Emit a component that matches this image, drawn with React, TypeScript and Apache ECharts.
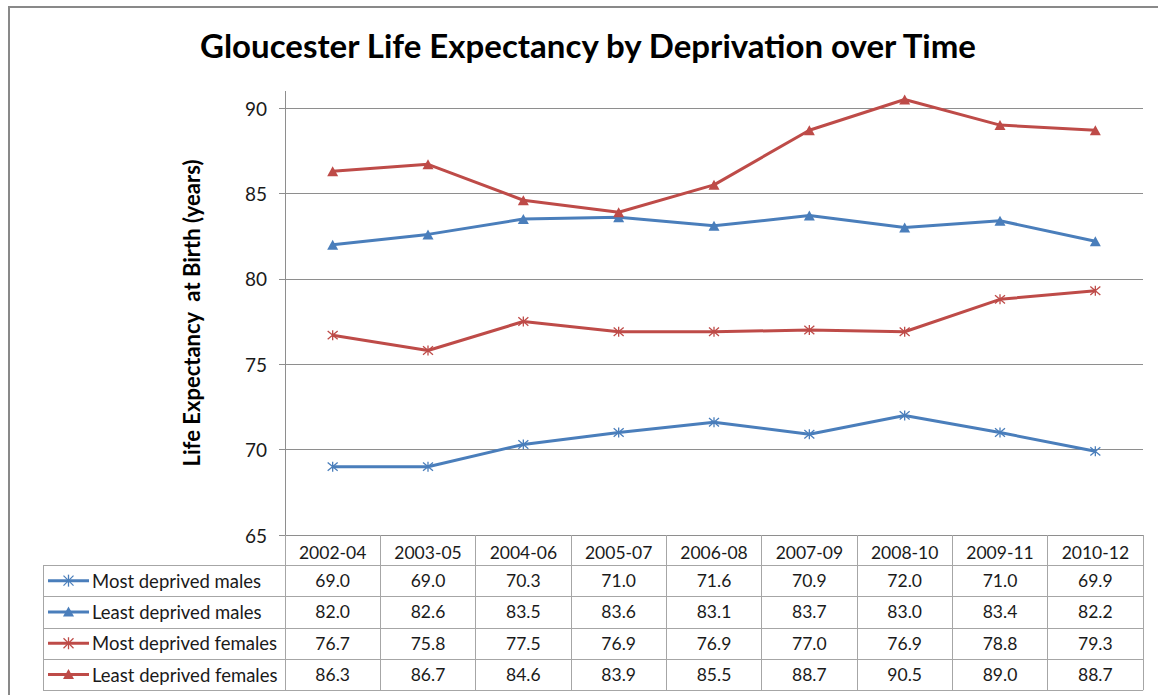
import React, { useEffect, useRef } from "react";
import * as echarts from "echarts";

const categories = ["2002-04", "2003-05", "2004-06", "2005-07", "2006-08", "2007-09", "2008-10", "2009-11", "2010-12"];
const seriesNames = ["Most deprived males", "Least deprived males", "Most deprived females", "Least deprived females"];
const mostDeprivedMales = [69.0, 69.0, 70.3, 71.0, 71.6, 70.9, 72.0, 71.0, 69.9];
const leastDeprivedMales = [82.0, 82.6, 83.5, 83.6, 83.1, 83.7, 83.0, 83.4, 82.2];
const mostDeprivedFemales = [76.7, 75.8, 77.5, 76.9, 76.9, 77.0, 76.9, 78.8, 79.3];
const leastDeprivedFemales = [86.3, 86.7, 84.6, 83.9, 85.5, 88.7, 90.5, 89.0, 88.7];
const yTicks = { min: 65, max: 90, interval: 5 };

const BLUE = "#4A7EBB";
const RED = "#BE4B48";
const FONT = "Lato, 'Noto Sans', sans-serif";
const ASTERISK = "path://M0,0L10,10M10,0L0,10M5,-1L5,11";

export default function App() {
  const ref = useRef<HTMLDivElement>(null);
  useEffect(() => {
    document.body.style.margin = "0";
    const chart = echarts.init(ref.current!, null, { renderer: "svg" });
    const W = 1158;
    const gridLeft = 285;
    const gridRight = 15;
    const gridTop = 108;
    const gridBottom = 160;
    const plotRight = W - gridRight;
    const axisY = 695 - gridBottom;
    const colW = (plotRight - gridLeft) / categories.length;
    const headerH = 30;
    const rowH = 31.3;
    const tableLeft = 43;
    const allData = [mostDeprivedMales, leastDeprivedMales, mostDeprivedFemales, leastDeprivedFemales];
    const colors = [BLUE, BLUE, RED, RED];
    const symbols = [ASTERISK, "triangle", ASTERISK, "triangle"];

    const graphics: any[] = [
      {
        type: "rect",
        shape: { x: 9, y: 7, width: 1300, height: 900 },
        style: { fill: "none", stroke: "#898989", lineWidth: 2 },
        silent: true,
      },
      {
        type: "text",
        x: 588,
        y: 45,
        style: {
          text: "Gloucester Life Expectancy by Deprivation over Time",
          font: `bold 33px ${FONT}`,
          fill: "#000",
          align: "center",
          verticalAlign: "middle",
        },
      },
      {
        type: "line",
        shape: { x1: gridLeft + 0.5, y1: 91, x2: gridLeft + 0.5, y2: gridTop },
        style: { stroke: "#8e8e8e", lineWidth: 1 },
      },
      {
        type: "text",
        x: 191,
        y: 313,
        rotation: Math.PI / 2,
        style: {
          text: "Life Expectancy  at Birth (years)",
          font: `bold 22px ${FONT}`,
          fill: "#000",
          align: "center",
          verticalAlign: "middle",
        },
      },
      {
        type: "line",
        shape: { x1: tableLeft + 0.5, y1: axisY + headerH, x2: tableLeft + 0.5, y2: axisY + headerH + rowH * seriesNames.length },
        style: { stroke: "#a6a6a6", lineWidth: 1 },
      },
    ];
    for (let i = 0; i <= seriesNames.length; i++) {
      const y = Math.round(axisY + headerH + rowH * i) + 0.5;
      graphics.push({
        type: "line",
        shape: { x1: tableLeft, y1: y, x2: plotRight, y2: y },
        style: { stroke: "#a6a6a6", lineWidth: 1 },
      });
    }
    seriesNames.forEach((name, i) => {
      const cy = axisY + headerH + rowH * (i + 0.5);
      const c = colors[i];
      graphics.push({
        type: "line",
        shape: { x1: 48, y1: cy, x2: 89, y2: cy },
        style: { stroke: c, lineWidth: 3 },
      });
      if (symbols[i] === "triangle") {
        graphics.push({
          type: "polygon",
          shape: { points: [[68.5, cy - 5.5], [74, cy + 4.5], [63, cy + 4.5]] },
          style: { fill: c },
        });
      } else {
        graphics.push(
          { type: "line", shape: { x1: 63.5, y1: cy - 5, x2: 73.5, y2: cy + 5 }, style: { stroke: c, lineWidth: 1.3 } },
          { type: "line", shape: { x1: 73.5, y1: cy - 5, x2: 63.5, y2: cy + 5 }, style: { stroke: c, lineWidth: 1.3 } },
          { type: "line", shape: { x1: 68.5, y1: cy - 6, x2: 68.5, y2: cy + 6 }, style: { stroke: c, lineWidth: 1.3 } }
        );
      }
      graphics.push({
        type: "text",
        x: 92,
        y: cy,
        style: {
          text: name,
          font: `18.5px ${FONT}`,
          fill: "#1a1a1a",
          align: "left",
          verticalAlign: "middle",
        },
      });
    });
    allData.forEach((arr, i) => {
      arr.forEach((v, j) => {
        graphics.push({
          type: "text",
          x: gridLeft + (j + 0.5) * colW,
          y: axisY + headerH + rowH * (i + 0.5),
          style: {
            text: v.toFixed(1),
            font: `17.5px ${FONT}`,
            fill: "#1a1a1a",
            align: "center",
            verticalAlign: "middle",
          },
        });
      });
    });

    chart.setOption({
      animation: false,
      grid: { left: gridLeft, right: gridRight, top: gridTop, bottom: gridBottom },
      xAxis: {
        type: "category",
        data: categories,
        boundaryGap: true,
        axisLine: { lineStyle: { color: "#8e8e8e", width: 1 } },
        axisTick: { show: true, length: headerH + rowH * seriesNames.length, lineStyle: { color: "#a6a6a6" }, interval: 0 },
        axisLabel: { fontFamily: FONT, fontSize: 17.5, color: "#1a1a1a", margin: 8, interval: 0 },
        splitLine: { show: false },
      },
      yAxis: {
        type: "value",
        min: yTicks.min,
        max: yTicks.max,
        interval: yTicks.interval,
        axisLine: { show: true, lineStyle: { color: "#8e8e8e", width: 1 } },
        axisTick: { show: true, length: 6, lineStyle: { color: "#8e8e8e" } },
        axisLabel: { fontFamily: FONT, fontSize: 19, color: "#1a1a1a", margin: 18 },
        splitLine: { lineStyle: { color: "#8e8e8e", width: 1 } },
      },
      series: allData.map((d, i) => ({
        name: seriesNames[i],
        type: "line",
        data: d,
        clip: false,
        symbol: symbols[i],
        symbolSize: symbols[i] === "triangle" ? [11, 10] : 10,
        showAllSymbol: true,
        lineStyle: { color: colors[i], width: 3 },
        itemStyle: {
          color: colors[i],
          borderColor: colors[i],
          borderWidth: symbols[i] === "triangle" ? 0 : 1.3,
        },
        z: 3,
      })),
      graphic: graphics,
    });
    return () => chart.dispose();
  }, []);
  return <div ref={ref} style={{ width: 1158, height: 695 }} />;
}
